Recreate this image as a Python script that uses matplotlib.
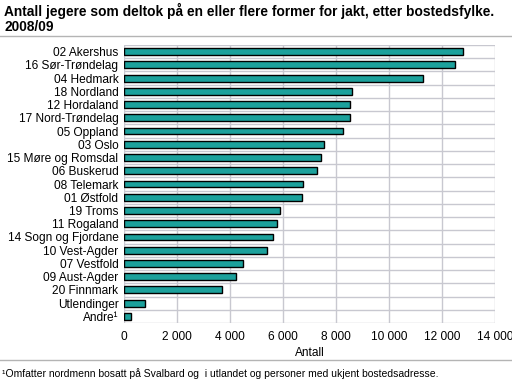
import matplotlib.pyplot as plt
import numpy as np

plt.rcParams['font.family'] = ['Liberation Sans', 'DejaVu Sans']

fylker = ['02 Akershus', '16 Sør-Trøndelag', '04 Hedmark', '18 Nordland',
          '12 Hordaland', '17 Nord-Trøndelag', '05 Oppland', '03 Oslo',
          '15 Møre og Romsdal', '06 Buskerud', '08 Telemark', '01 Østfold',
          '19 Troms', '11 Rogaland', '14 Sogn og Fjordane', '10 Vest-Agder',
          '07 Vestfold', '09 Aust-Agder', '20 Finnmark', 'Utlendinger', 'Andre¹']
antall = [12800, 12500, 11290, 8610, 8540, 8540, 8270, 7560,
          7440, 7290, 6770, 6730, 5870, 5760, 5610, 5390,
          4500, 4240, 3710, 800, 280]
xticks = [0, 2000, 4000, 6000, 8000, 10000, 12000, 14000]
xticklabels = ['0', '2 000', '4 000', '6 000', '8 000', '10 000', '12 000', '14 000']

fig = plt.figure(figsize=(5.12, 3.84), dpi=100)
ax = fig.add_axes([124/512, 1 - 323/384, (495-124)/512, (323-45)/384])

n = len(fylker)
y = np.arange(n)
ax.barh(y, antall, height=0.52, color='#1ca19c', edgecolor='black', linewidth=1, zorder=3)
ax.set_ylim(n - 0.5, -0.5)
ax.set_xlim(0, 14000)
ax.set_yticks(y)
ax.set_yticklabels(fylker, fontsize=8.6)
ax.set_xticks(xticks)
ax.set_xticklabels(xticklabels, fontsize=8.6)
ax.tick_params(length=0, pad=6)
ax.tick_params(axis='y', pad=4)

# grid: vertical at ticks, horizontal between categories
for xv in xticks:
    ax.axvline(xv, color='#c8c8d0', lw=1, zorder=1)
for k in range(n + 1):
    ax.axhline(k - 0.5, color='#c8c8d0', lw=1, zorder=1)
for s in ax.spines.values():
    s.set_visible(False)

ax.set_xlabel('Antall', fontsize=8.6, labelpad=3)

fig.text(0.008, 1 - 3/384, 'Antall jegere som deltok på en eller flere former for jakt, etter bostedsfylke.\n2008/09',
         fontsize=9.9, fontweight='bold', va='top', ha='left', linespacing=1.05)
fig.add_artist(plt.Line2D([0, 1], [1 - 36/384, 1 - 36/384], color='#b4b4b4', lw=1))
fig.add_artist(plt.Line2D([0, 1], [1 - 360/384, 1 - 360/384], color='#b4b4b4', lw=1))
fig.text(0.004, 1 - 374/384, '¹Omfatter nordmenn bosatt på Svalbard og  i utlandet og personer med ukjent bostedsadresse.',
         fontsize=7.5, va='center', ha='left')

fig.savefig('out.png', dpi=100)
